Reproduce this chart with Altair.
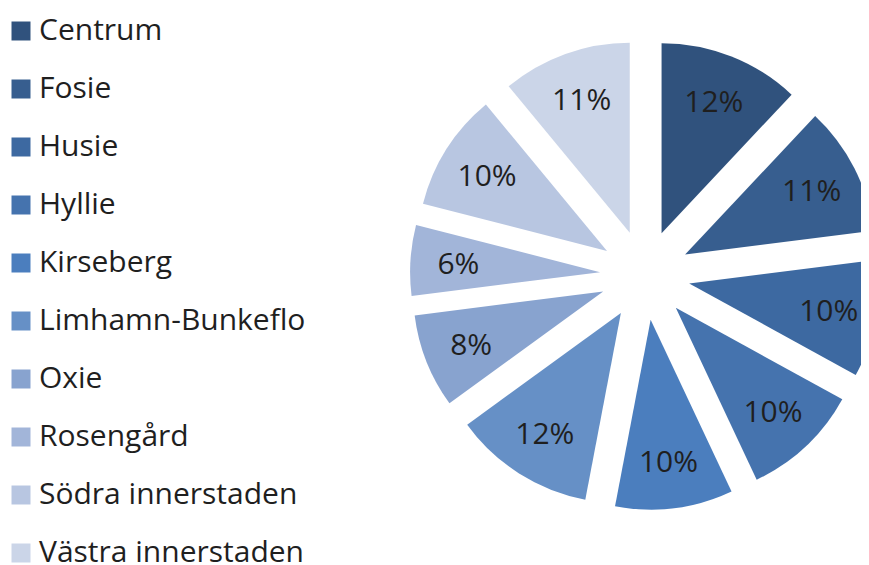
import altair as alt
import pandas as pd

# ---- data ----
districts = ["Centrum", "Fosie", "Husie", "Hyllie", "Kirseberg",
             "Limhamn-Bunkeflo", "Oxie", "Rosengård", "Södra innerstaden",
             "Västra innerstaden"]
shares = [12, 11, 10, 10, 10, 12, 8, 6, 10, 11]
palette = ["#30527D", "#375E8F", "#3D69A1", "#4573AE", "#4B7EBE",
           "#6690C6", "#88A3CF", "#A2B5D9", "#B8C6E1", "#CBD5E8"]

df = pd.DataFrame({"district": districts, "share": shares,
                   "idx": list(range(len(districts)))})

# ---- layout ----
W, H = 853, 557          # drawing area (page minus 8px margin)
CX, CY = 637, 267        # pie centre inside the drawing area
EXPLODE = 45             # radial offset of each slice
R = 190                  # slice radius
LABEL_R = 187            # distance of labels from the centre
FONT = "Open Sans"

base = (
    alt.Chart(df)
    .transform_window(cum="sum(share)", sort=[alt.SortField("idx")],
                      frame=[None, 0])
    .transform_joinaggregate(total="sum(share)")
    .transform_calculate(
        p0="(datum.cum - datum.share) / datum.total * 100",
        p1="datum.cum / datum.total * 100",
        mid="(datum.cum - datum.share / 2) / datum.total * 2 * PI",
    )
    .transform_calculate(
        ox=f"{EXPLODE} * sin(datum.mid)",
        oy=f"{EXPLODE} * cos(datum.mid)",
        lx=f"{LABEL_R} * sin(datum.mid)",
        ly=f"{LABEL_R} * cos(datum.mid)",
        label="datum.share + '%'",
    )
)

xs = alt.Scale(domain=[-CX, W - CX], nice=False, zero=False)
ys = alt.Scale(domain=[-(H - CY), CY], nice=False, zero=False)

arcs = base.mark_arc(radius=R, stroke=None).encode(
    x=alt.X("ox:Q", scale=xs, axis=None),
    y=alt.Y("oy:Q", scale=ys, axis=None),
    theta=alt.Theta("p0:Q", scale=alt.Scale(domain=[0, 100])),
    theta2="p1:Q",
    color=alt.Color(
        "district:N",
        scale=alt.Scale(domain=districts, range=palette),
        legend=alt.Legend(
            title=None, orient="none", legendX=-2, legendY=8,
            symbolType="square", symbolSize=361, symbolStrokeWidth=0,
            labelFont=FONT, labelFontSize=30, labelColor="#1F1F1F",
            labelOffset=3, rowPadding=28, labelLimit=400,
        ),
    ),
    order=alt.Order("idx:Q"),
)

texts = base.mark_text(font=FONT, fontSize=30, color="#1F1F1F",
                       align="center", baseline="middle", dy=2).encode(
    x=alt.X("lx:Q", scale=xs, axis=None),
    y=alt.Y("ly:Q", scale=ys, axis=None),
    text="label:N",
)

chart = (
    alt.layer(arcs, texts)
    .properties(width=W, height=H, padding=0, autosize="none")
    .configure_view(stroke=None)
)

chart.save("out.html", embed_options={"renderer": "svg", "actions": False})
